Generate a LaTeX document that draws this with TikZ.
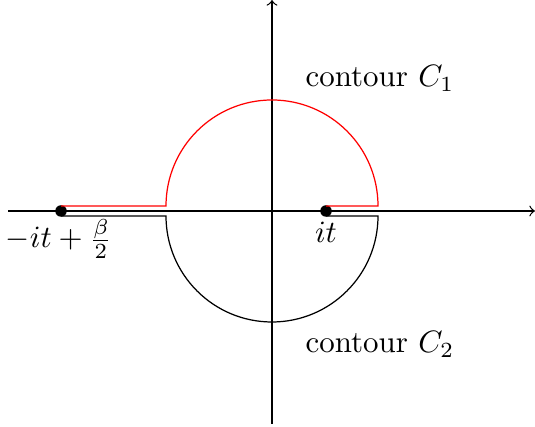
\documentclass[tikz,border=0pt]{standalone}
\begin{document}
\begin{tikzpicture}[x=0.3233pt,y=-0.3233pt,
  dotnode/.style={circle,fill=black,inner sep=0pt,minimum size=11.5*0.3233pt},
  lab/.style={inner sep=0pt},
  axis/.style={->,line width=0.4pt}]
\useasboundingbox (0,0) rectangle (535,427);
% axes
\coordinate (xl) at (8,211);
\coordinate (xr) at (535,211);
\coordinate (yb) at (272,424);
\coordinate (yt) at (272,0);
\draw[axis] (xl) -- (xr);
\draw[axis] (yb) -- (yt);
% dots
\node[dotnode] (p1) at (61,211) {};
\node[dotnode] (p2) at (326,211) {};
% red contour C1
\draw[red] (61,206) -- (166,206) arc[start angle=180,end angle=0,x radius=106,y radius=-106] -- (326,206);
% black contour C2
\draw (61,216) -- (166,216) arc[start angle=180,end angle=360,x radius=106,y radius=-106] -- (326,216);
% labels
\node[lab,anchor=base] (l1) at (59,248) {$-it+\frac{\beta}{2}$};
\node[lab,anchor=base] (l2) at (326,243) {$it$};
\node[lab,anchor=base west] (c1) at (305,87) {contour $C_1$};
\node[lab,anchor=base west] (c2) at (305,353) {contour $C_2$};
\end{tikzpicture}
\end{document}
